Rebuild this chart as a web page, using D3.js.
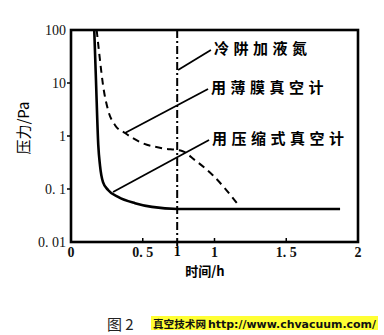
<!DOCTYPE html>
<html><head><meta charset="utf-8">
<script src="https://cdn.jsdelivr.net/npm/d3@7"></script>
<style>body{margin:0;background:#fff}svg{display:block}</style>
</head><body><svg id="c" width="384" height="335"></svg>
<script>
// ---- data ----
const xTicks = [0, 0.5, 1, 1.5, 2];
const xTickLabels = ["0", "0. 5", "1", "1. 5", "2"];
const yTicks = [100, 10, 1, 0.1, 0.01];
const yTickLabels = ["100", "10", "1", "0. 1", "0. 01"];
// solid curve: cold trap with LN2 (compression gauge)
const solidT = [0.162, 0.174, 0.190, 0.202, 0.223, 0.258, 0.328, 0.446, 0.564, 0.746, 1.2, 1.875];
const solidP = [100, 11.4, 0.68, 0.28, 0.135, 0.096, 0.071, 0.054, 0.046, 0.042, 0.042, 0.042];
// dashed curve: membrane gauge
const dashT = [0.179, 0.202, 0.223, 0.258, 0.307, 0.376, 0.495, 0.634, 0.774, 0.864, 0.990, 1.157];
const dashP = [100, 27, 9.2, 3.1, 1.6, 1.14, 0.74, 0.59, 0.52, 0.35, 0.18, 0.054];
const markerT = 0.74;
const markerLabel = "1";
const annoText = ["冷阱加液氮", "用薄膜真空计", "用压缩式真空计"];
const annoFromT = [0.746, 0.376, 0.293];
const annoFromP = [17.6, 1.14, 0.088];
const annoToT = [0.975, 0.955, 0.962];
const annoToP = [42, 7.7, 0.84];

// ---- layout ----
const svg = d3.select("#c");
const x = d3.scaleLinear().domain([0, 2]).range([71, 358]);
const y = d3.scaleLog().domain([0.01, 100]).range([242, 30]);
const serif = "'Liberation Serif','DejaVu Serif',serif";
const cjk = "'Noto Sans CJK SC','Noto Sans',sans-serif";

// frame
svg.append("rect").attr("x", x(0)).attr("y", y(100))
  .attr("width", x(2) - x(0)).attr("height", y(0.01) - y(100))
  .attr("fill", "none").attr("stroke", "#000").attr("stroke-width", 2.6);

// x ticks (inward) and labels
svg.append("g").selectAll("line").data(xTicks.slice(1, 4)).join("line")
  .attr("x1", d => x(d)).attr("x2", d => x(d))
  .attr("y1", y(0.01)).attr("y2", y(0.01) - 4)
  .attr("stroke", "#000").attr("stroke-width", 1.5);
svg.append("g").selectAll("text").data(xTicks).join("text")
  .attr("x", d => x(d)).attr("y", 257)
  .attr("text-anchor", "middle").attr("font-family", serif).attr("font-size", 14)
  .attr("font-weight", "bold").attr("fill", "#111")
  .text((d, i) => xTickLabels[i]);
svg.append("text").attr("x", x(markerT)).attr("y", 256)
  .attr("text-anchor", "middle").attr("font-family", serif).attr("font-size", 14)
  .attr("font-weight", "bold").text(markerLabel);

// y ticks (outward) and labels
svg.append("g").selectAll("line").data(yTicks.slice(1, 4)).join("line")
  .attr("x1", x(0) - 4).attr("x2", x(0))
  .attr("y1", d => y(d)).attr("y2", d => y(d))
  .attr("stroke", "#000").attr("stroke-width", 1.5);
svg.append("g").selectAll("text").data(yTicks).join("text")
  .attr("x", 66).attr("y", d => y(d) + 5)
  .attr("text-anchor", "end").attr("font-family", serif).attr("font-size", 14)
  .attr("fill", "#111")
  .text((d, i) => yTickLabels[i]);

// axis titles
svg.append("text").attr("transform", "translate(29,128) rotate(-90)")
  .attr("text-anchor", "middle").attr("font-family", cjk).attr("font-size", 15)
  .text("压力/Pa");
svg.append("text").attr("x", 205).attr("y", 276)
  .attr("text-anchor", "middle").attr("font-family", cjk).attr("font-size", 13)
  .attr("font-weight", "bold").text("时间/h");

// vertical dash-dot marker
svg.append("line").attr("x1", x(markerT)).attr("x2", x(markerT))
  .attr("y1", y(100)).attr("y2", y(0.01) + 4)
  .attr("stroke", "#000").attr("stroke-width", 2).attr("stroke-dasharray", "8,3,2,3");

// curves
const line = d3.line().x(d => x(d[0])).y(d => y(d[1])).curve(d3.curveMonotoneX);
svg.append("path").datum(solidT.map((t, i) => [t, solidP[i]]))
  .attr("d", line).attr("fill", "none").attr("stroke", "#000").attr("stroke-width", 2.6);
svg.append("path").datum(dashT.map((t, i) => [t, dashP[i]]))
  .attr("d", line).attr("fill", "none").attr("stroke", "#000").attr("stroke-width", 2)
  .attr("stroke-dasharray", "7,5");

// annotations
annoText.forEach((txt, i) => {
  svg.append("line")
    .attr("x1", x(annoFromT[i])).attr("y1", y(annoFromP[i]))
    .attr("x2", x(annoToT[i])).attr("y2", y(annoToP[i]))
    .attr("stroke", "#000").attr("stroke-width", 1.8);
  svg.append("text").attr("x", x(annoToT[i]) + 3).attr("y", y(annoToP[i]) + 4)
    .attr("font-family", cjk).attr("font-size", 15).attr("font-weight", "bold")
    .attr("letter-spacing", 4.5).text(txt);
});

// caption
svg.append("text").attr("x", 107).attr("y", 330)
  .attr("font-family", cjk).attr("font-size", 15).attr("fill", "#222").text("图 2");
svg.append("rect").attr("x", 151).attr("y", 316).attr("width", 227).attr("height", 14)
  .attr("fill", "#ffff33");
svg.append("text").attr("x", 153).attr("y", 327.5)
  .attr("font-family", cjk).attr("font-size", 10.5).attr("font-weight", "bold").attr("fill", "#111")
  .attr("textLength", 53).attr("lengthAdjust", "spacingAndGlyphs").text("真空技术网");
svg.append("text").attr("x", 208).attr("y", 327.5)
  .attr("font-family", "'DejaVu Sans',sans-serif").attr("font-size", 10.5).attr("font-weight", "bold").attr("fill", "#111")
  .attr("textLength", 168).attr("lengthAdjust", "spacingAndGlyphs").text("http://www.chvacuum.com/");
</script></body></html>
